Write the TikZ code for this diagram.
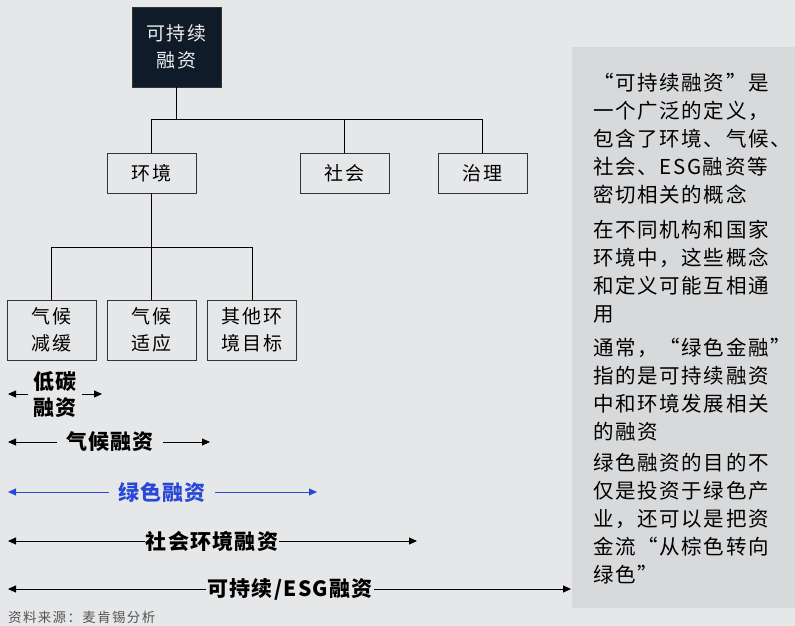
\documentclass[tikz,border=0pt]{standalone}
\usepackage{fontspec}
\setmainfont{Noto Sans CJK SC}
\newfontfamily\lsfont[LetterSpace=10]{Noto Sans CJK SC}
\newfontfamily\pfont[LetterSpace=8]{Noto Sans CJK SC}
\newfontfamily\lblfont[LetterSpace=6]{Noto Sans CJK SC}
\usetikzlibrary{arrows.meta}
\definecolor{bg}{HTML}{E6E7E9}
\definecolor{panel}{HTML}{D8D9DB}
\definecolor{navy}{HTML}{0F1B29}
\definecolor{blueg}{HTML}{2A48D6}
\definecolor{srcgray}{HTML}{555555}
\begin{document}
\begin{tikzpicture}[x=1pt,y=-1pt,
  box/.style={draw=black!80, line width=0.7pt, fill=bg, minimum width=89pt, inner sep=0pt, align=center, font=\lsfont\fontsize{19}{27}\selectfont},
  conn/.style={line width=0.7pt, black},
  lbl/.style={font=\lblfont\bfseries\fontsize{21}{26}\selectfont, inner ysep=0pt, align=center},
  rng/.style={line width=0.8pt, {Triangle[length=8pt,width=7pt]}-},
  ptext/.style={anchor=north west, inner sep=0pt, align=left, font=\pfont\fontsize{20.5}{28}\selectfont}
]
\fill[bg] (0,0) rectangle (795,626);
\useasboundingbox (0,0) rectangle (795,626);
\fill[panel] (572,47) rectangle (795,608);

% tree
\node[box, fill=navy, text=white!85!gray, minimum height=80pt] (top) at (176.5,47) {可持续\\融资};
\node[box, minimum height=40pt] (env) at (151.5,173) {环境};
\node[box, minimum height=40pt] (soc) at (344.5,173) {社会};
\node[box, minimum height=40pt] (gov) at (482.5,173) {治理};
\node[box, minimum height=60pt] (mit) at (51.5,330) {气候\\减缓};
\node[box, minimum height=60pt] (ada) at (151.5,330) {气候\\适应};
\node[box, minimum height=60pt] (oth) at (252,330) {其他环\\境目标};

\coordinate (j1) at (176.5,119);
\coordinate (j2) at (151.5,247);
\draw[conn] (top.south) -- (j1);
\draw[conn] (j1) -| (env.north);
\draw[conn] (j1) -| (soc.north);
\draw[conn] (j1) -| (gov.north);
\draw[conn] (env.south) -- (ada.north);
\draw[conn] (j2) -| (mit.north);
\draw[conn] (j2) -| (oth.north);

% ranges
\node[lbl, inner xsep=5pt] (r1) at (55,394) {低碳\\融资};
\coordinate (r1l) at (8,394); \coordinate (r1r) at (102,394);
\draw[rng] (r1l) -- (r1.west);
\draw[rng] (r1r) -- (r1.east);

\node[lbl, inner xsep=9pt] (r2) at (110,442) {气候融资};
\coordinate (r2l) at (8,442); \coordinate (r2r) at (210,442);
\draw[rng] (r2l) -- (r2.west);
\draw[rng] (r2r) -- (r2.east);

\node[lbl, inner xsep=9pt, text=blueg] (r3) at (162,492) {绿色融资};
\coordinate (r3l) at (8,492); \coordinate (r3r) at (317,492);
\draw[rng, blueg] (r3l) -- (r3.west);
\draw[rng, blueg] (r3r) -- (r3.east);

\node[lbl, inner xsep=1pt] (r4) at (212,541) {社会环境融资};
\coordinate (r4l) at (8,541); \coordinate (r4r) at (417,541);
\draw[rng] (r4l) -- (r4.west);
\draw[rng] (r4r) -- (r4.east);

\node[lbl, inner xsep=1pt] (r5) at (290,589) {可持续/ESG融资};
\coordinate (r5l) at (8,589); \coordinate (r5r) at (571,589);
\draw[rng] (r5l) -- (r5.west);
\draw[rng] (r5r) -- (r5.east);

% panel text
\node[ptext] (p1) at (593,73) {“可持续融资”是\\一个广泛的定义，\\包含了环境、气候、\\社会、ESG融资等\\密切相关的概念};
\node[ptext] (p2) at (593,220) {在不同机构和国家\\环境中，这些概念\\和定义可能互相通\\用};
\node[ptext] (p3) at (593,338) {通常，“绿色金融”\\指的是可持续融资\\中和环境发展相关\\的融资};
\node[ptext] (p4) at (593,453) {绿色融资的目的不\\仅是投资于绿色产\\业，还可以是把资\\金流“从棕色转向\\绿色”};

\node[anchor=west, inner sep=0pt, text=srcgray, font=\lsfont\fontsize{13.5}{15}\selectfont] (src) at (8,617) {资料来源：麦肯锡分析};
\end{tikzpicture}
\end{document}
